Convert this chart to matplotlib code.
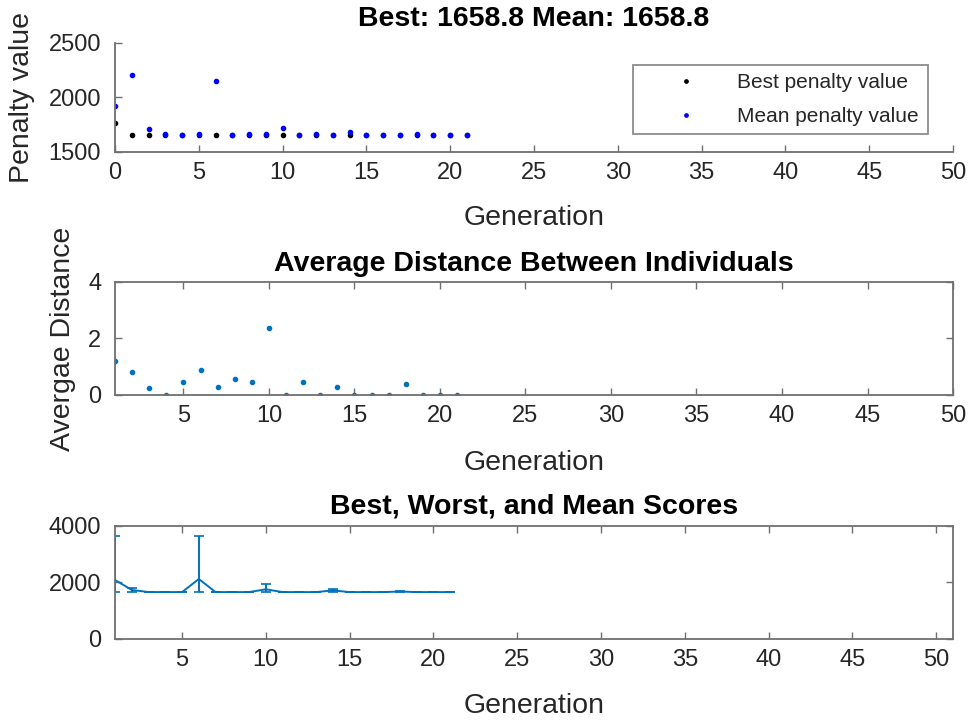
import matplotlib.pyplot as plt
import numpy as np

plt.rcParams['font.family'] = ['Liberation Sans', 'DejaVu Sans']

# penalty per generation (generation 0..21)
gens = np.arange(0, 22)
best_penalty = [1763, 1658.8, 1658.8, 1658.8, 1658.8, 1658.8, 1658.8, 1658.8,
                1658.8, 1658.8, 1658.8, 1658.8, 1658.8, 1658.8, 1658.8, 1658.8,
                1658.8, 1658.8, 1658.8, 1658.8, 1658.8, 1658.8]
mean_penalty = [1922, 2206, 1714, 1661, 1660, 1662, 2154, 1660, 1661, 1662,
                1723, 1660, 1661, 1656, 1686, 1656, 1656, 1660, 1665, 1656,
                1659, 1658.8]

# average distance between individuals (generation 1..21)
dist_gens = np.arange(1, 22)
avg_distance = [1.21, 0.83, 0.26, 0.0, 0.47, 0.88, 0.27, 0.58, 0.47, 2.38, 0.0,
                0.47, 0.0, 0.29, 0.0, 0.0, 0.0, 0.38, 0.0, 0.0, 0.0]

# best / worst / mean scores (generation 1..21)
score_gens = np.arange(1, 22)
best_score = [1658.8] * 21
worst_score = [3646, 1800, 1670, 1665, 1665, 3640, 1665, 1665, 1665, 1950,
               1665, 1665, 1665, 1780, 1665, 1665, 1665, 1700, 1665, 1665, 1660]
mean_score = [2089, 1735, 1662, 1660, 1660, 2124, 1660, 1660, 1660, 1759,
              1660, 1660, 1660, 1720, 1660, 1660, 1660, 1680, 1660, 1660, 1658.8]

spine_col = '#707070'
text_col = '#262626'
mblue = (0, 0.447, 0.741)


def style_axes(ax, box=True):
    for side in ['left', 'bottom', 'top', 'right']:
        ax.spines[side].set_color(spine_col)
        ax.spines[side].set_linewidth(1.3)
    if not box:
        ax.spines['top'].set_visible(False)
        ax.spines['right'].set_visible(False)
    ax.tick_params(direction='in', length=5, width=1.0, color=spine_col,
                   labelsize=17, labelcolor=text_col,
                   top=box, right=box)
    ax.tick_params(axis='y', pad=10)
    ax.tick_params(axis='x', pad=7)


fig = plt.figure(figsize=(9.69, 7.23), dpi=100)

# top: penalty values
ax1 = fig.add_axes([0.1187, 0.7898, 0.8648, 0.1508])
ax1.plot(gens, best_penalty, '.', color='k', markersize=6, label='Best penalty value')
ax1.plot(gens, mean_penalty, '.', color='b', markersize=6, label='Mean penalty value')
ax1.set_xlim(0, 50)
ax1.set_ylim(1500, 2500)
ax1.set_xticks(np.arange(0, 51, 5))
ax1.set_yticks([1500, 2000, 2500])
style_axes(ax1, box=False)
ax1.set_title('Best: 1658.8 Mean: 1658.8', fontsize=20.5, fontweight='bold', pad=12)
ax1.set_xlabel('Generation', fontsize=20.5, color=text_col, labelpad=15)
ax1.set_ylabel('Penalty value', fontsize=20.5, color=text_col, labelpad=10)
leg = ax1.legend(loc='upper left', bbox_to_anchor=(0.618, 0.165, 0.352, 0.633),
                 mode='expand', borderaxespad=0, fontsize=15, frameon=True,
                 fancybox=False, handlelength=4.3, handletextpad=0.3,
                 labelspacing=0.7, borderpad=0.4, markerscale=0.8)
leg.get_frame().set_edgecolor(spine_col)
leg.get_frame().set_linewidth(1.3)
for t in leg.get_texts():
    t.set_color(text_col)

# middle: average distance
ax2 = fig.add_axes([0.1187, 0.4537, 0.8648, 0.1563])
ax2.plot(dist_gens, avg_distance, '.', color=mblue, markersize=6)
ax2.set_xlim(1, 50)
ax2.set_ylim(0, 4)
ax2.set_xticks(np.arange(5, 51, 5))
ax2.set_yticks([0, 2, 4])
style_axes(ax2)
ax2.set_title('Average Distance Between Individuals', fontsize=20.5,
              fontweight='bold', pad=8)
ax2.set_xlabel('Generation', fontsize=20.5, color=text_col, labelpad=17)
ax2.set_ylabel('Avergae Distance', fontsize=20.5, color=text_col, labelpad=9)

# bottom: best, worst and mean scores
ax3 = fig.add_axes([0.1187, 0.1162, 0.8648, 0.1563])
mean_arr = np.array(mean_score)
yerr = [mean_arr - np.array(best_score), np.array(worst_score) - mean_arr]
ax3.errorbar(score_gens, mean_score, yerr=yerr, color=mblue, linewidth=1.4,
             elinewidth=1.4, capsize=3.5, capthick=1.2)
ax3.set_xlim(1, 51)
ax3.set_ylim(0, 4000)
ax3.set_xticks(np.arange(5, 51, 5))
ax3.set_yticks([0, 2000, 4000])
style_axes(ax3)
ax3.set_title('Best, Worst, and Mean Scores', fontsize=20.5,
              fontweight='bold', pad=9)
ax3.set_xlabel('Generation', fontsize=20.5, color=text_col, labelpad=16)

fig.savefig('out.png', dpi=100)
